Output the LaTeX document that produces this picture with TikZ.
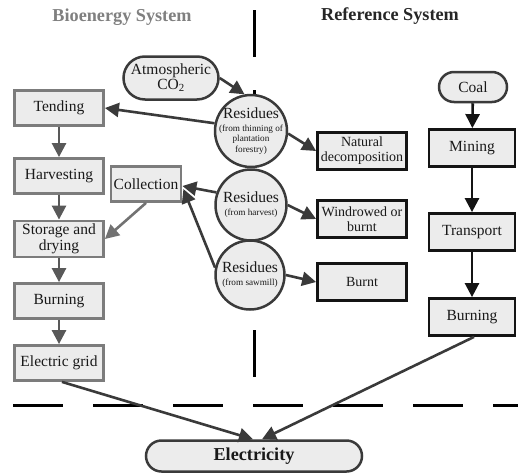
\documentclass[tikz,border=0pt]{standalone}
\usepackage{fontspec}
\setmainfont{Liberation Serif}
\usetikzlibrary{arrows.meta,shapes.misc,calc}
\definecolor{fillc}{HTML}{ECECEC}
\definecolor{grayb}{HTML}{7C7C7C}
\definecolor{darkc}{HTML}{3A3A3A}
\definecolor{bioarr}{HTML}{595959}
\definecolor{titlegray}{HTML}{808080}
\newcommand{\bigf}{\fontsize{15.5}{16.5}\selectfont}
\newcommand{\smallf}{\fontsize{9.2}{10.2}\selectfont}
\begin{document}
\begin{tikzpicture}[x=1pt,y=-1pt,
 every node/.style={font=\bigf, text=black!90},
 graybox/.style={draw=grayb, line width=2.8pt, fill=fillc, minimum width=89pt, minimum height=35pt, inner sep=1pt, align=center},
 blackbox/.style={draw=black!92, line width=2.8pt, fill=fillc, minimum width=89pt, minimum height=37pt, inner sep=1pt, align=center},
 fatebox/.style={blackbox, font=\fontsize{14}{15}\selectfont},
 rescirc/.style={circle, draw=darkc, line width=2.5pt, fill=fillc, minimum size=71pt, inner sep=0pt},
 restext/.style={align=center, inner sep=0pt, font=\smallf},
 pill/.style={rounded rectangle, draw=darkc, line width=2.5pt, fill=fillc, inner sep=0pt, align=center},
 arr/.style={-{Triangle[length=14pt,width=14pt]}, line width=2.6pt},
 darkarr/.style={arr, draw=darkc},
 bioarrow/.style={arr, draw=bioarr},
 blackarrow/.style={arr, draw=black!92},
 divider/.style={line width=3pt, draw=black}
]
\useasboundingbox (0,0) rectangle (518,474);

% dividers
\coordinate (vtop) at (254,10);
\coordinate (vbot) at (254,385);
\coordinate (hl) at (13,405);
\coordinate (hr) at (522,405);
\draw[divider, dash pattern=on 47pt off 33pt] (vtop) -- (vbot);
\draw[divider, dash pattern=on 50pt off 30pt] (hl) -- (hr);

% titles
\node[font=\fontsize{18.2}{20}\selectfont\bfseries, text=titlegray] (t1) at (122,17) {Bioenergy System};
\node[font=\fontsize{18.2}{20}\selectfont\bfseries, text=black!85] (t2) at (390,16) {Reference System};

% bioenergy chain
\node[graybox] (tend) at (59,108) {Tending};
\node[graybox] (harv) at (59,176) {Harvesting};
\node[graybox, minimum width=70pt] (coll) at (146,184) {Collection};
\node[graybox, minimum height=36pt, font=\fontsize{15.5}{16}\selectfont] (stor) at (59,239) {Storage and\\drying};
\node[graybox] (burn) at (59,301) {Burning};
\node[graybox] (grid) at (59,363) {Electric grid};

% atmospheric CO2
\node[pill, minimum width=95pt, minimum height=43pt, font=\fontsize{15.5}{15}\selectfont] (co2) at (171,78) {Atmospheric\\CO\textsubscript{2}};

% residues
\node[rescirc, minimum size=72pt] (res1) at (251,131) {};
\node[restext] (res1t) at (251,131) {{\bigf Residues}\\[2.8pt](from thinning of\\plantation\\forestry)};
\node[rescirc] (res2) at (251,205) {};
\node[restext] (res2t) at (251,205) {{\bigf Residues}\\[2.8pt](from harvest)};
\node[rescirc, minimum size=69pt] (res3) at (250,275) {};
\node[restext] (res3t) at (250,275) {{\bigf Residues}\\[2.8pt](from sawmill)};

% residue fates
\node[fatebox] (natd) at (362,151) {Natural\\decomposition};
\node[fatebox] (wind) at (362,219) {Windrowed or\\burnt};
\node[fatebox] (brnt) at (362,282) {Burnt};

% reference chain
\node[pill, minimum width=68pt, minimum height=30pt] (coal) at (473,87) {Coal};
\node[blackbox, minimum width=86pt] (mine) at (472,148) {Mining};
\node[blackbox, minimum width=86pt] (trans) at (472,232) {Transport};
\node[blackbox, minimum width=86pt] (bref) at (472,317) {Burning};

% electricity
\node[pill, minimum width=216pt, minimum height=31pt, font=\fontsize{18.2}{20}\selectfont\bfseries] (elec) at (254,456) {Electricity};

% arrows: bioenergy chain
\draw[bioarrow] (tend) -- (harv);
\draw[bioarrow] (harv) -- (stor);
\draw[bioarrow] (stor) -- (burn);
\draw[bioarrow] (burn) -- (grid);
\draw[bioarrow, draw=bioarr!85] (coll.south) -- (stor.east);

% residue arrows
\draw[darkarr] (co2.east) -- (res1.100);
\draw[darkarr] (res1.168) -- (tend.east);
\draw[darkarr] (res1.-4) -- (natd.west);
\draw[darkarr] (res2.160) -- ($(coll.east)+(0,2)$);
\draw[darkarr] (res3.168) -- ($(coll.east)+(1,5)$);
\draw[darkarr] (res2.east) -- (wind.west);
\draw[darkarr] (res3.east) -- (brnt.west);

% reference chain arrows
\draw[blackarrow] (coal) -- (mine);
\draw[blackarrow] (mine) -- (trans);
\draw[blackarrow] (trans) -- (bref);

% to electricity
\draw[darkarr] ($(grid.south)+(3,0)$) -- ($(elec.north)+(-1,0)$);
\draw[darkarr] ($(bref.south)+(2,0)$) -- ($(elec.north)+(8,0)$);
\end{tikzpicture}
\end{document}
